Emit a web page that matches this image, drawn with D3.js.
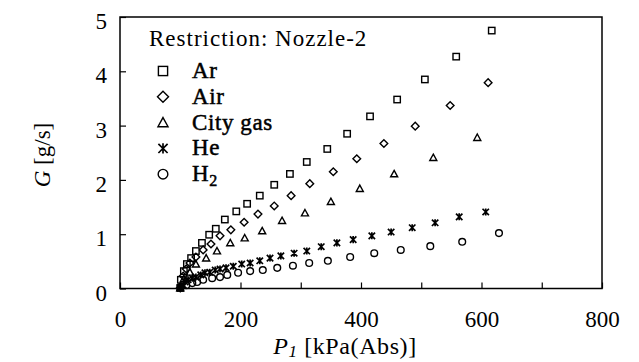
<!DOCTYPE html>
<html>
<head>
    <meta charset="utf-8">
    <style>
        body { margin: 0; background: white; }
        text { font-family: 'Liberation Serif', 'Times New Roman', serif; fill: black; }
        .tick line { stroke: black; stroke-width: 1.2; }
        .tick text { font-size: 23px; font-family: 'Liberation Serif', serif; }
    </style>
</head>
<body>
<svg width="639" height="362"></svg>

<script src="https://d3js.org/d3.v7.min.js"></script>
<script>
    // P1 [kPa(Abs)] / G [g/s]
    let arP = [100, 101, 106, 111, 118, 126, 136, 148, 159, 174, 193, 211, 232, 256, 282, 310, 344, 377, 415, 460, 506, 558, 617]
    let arG = [0.01, 0.16, 0.32, 0.45, 0.56, 0.69, 0.84, 0.99, 1.10, 1.27, 1.42, 1.56, 1.71, 1.91, 2.11, 2.33, 2.57, 2.85, 3.17, 3.48, 3.85, 4.27, 4.75]

    let airP = [100, 105, 110, 116, 126, 138, 151, 166, 184, 206, 229, 256, 284, 315, 354, 393, 438, 490, 548, 611]
    let airG = [0.01, 0.23, 0.36, 0.47, 0.58, 0.71, 0.82, 0.97, 1.08, 1.22, 1.37, 1.52, 1.71, 1.93, 2.15, 2.39, 2.67, 2.99, 3.37, 3.79]

    let cityP = [100, 106, 116, 126, 143, 161, 183, 207, 236, 269, 307, 350, 398, 455, 520, 593]
    let cityG = [0.01, 0.18, 0.30, 0.45, 0.56, 0.69, 0.84, 0.93, 1.06, 1.25, 1.39, 1.60, 1.84, 2.11, 2.41, 2.78]

    let heP = [100, 105, 108, 113, 120, 126, 134, 141, 149, 158, 166, 176, 188, 202, 216, 232, 249, 267, 289, 310, 334, 360, 387, 418, 450, 485, 523, 563, 607]
    let heG = [0.01, 0.06, 0.12, 0.16, 0.19, 0.21, 0.25, 0.29, 0.30, 0.34, 0.36, 0.38, 0.41, 0.45, 0.47, 0.51, 0.56, 0.60, 0.65, 0.69, 0.77, 0.84, 0.90, 0.97, 1.04, 1.12, 1.21, 1.32, 1.41]

    let h2P = [101, 110, 120, 128, 138, 153, 166, 178, 196, 216, 237, 261, 287, 314, 345, 382, 422, 466, 515, 568, 629]
    let h2G = [0.03, 0.06, 0.10, 0.12, 0.16, 0.19, 0.21, 0.25, 0.29, 0.32, 0.34, 0.38, 0.42, 0.47, 0.51, 0.58, 0.65, 0.71, 0.78, 0.86, 1.02]

    let legendNames = ["Ar", "Air", "City gas", "He", "H"]
    let symbols = ["square", "diamond", "triangle", "star", "circle"]
    let xTicks = [0, 100, 200, 300, 400, 500, 600, 700, 800]
    let xLabels = [0, 200, 400, 600, 800]
    let yTicks = [0, 1, 2, 3, 4, 5]

    let series = [
        { P: arP, G: arG },
        { P: airP, G: airG },
        { P: cityP, G: cityG },
        { P: heP, G: heG },
        { P: h2P, G: h2G }
    ]

    let svg = d3.select("svg")

    let plotL = 120, plotR = 602, plotT = 17, plotB = 288.5

    let x = d3.scaleLinear().domain([0, 800]).range([plotL, plotR])
    let y = d3.scaleLinear().domain([0, 5]).range([plotB, plotT])

    // marker shapes, s = half size
    function marker(g, type, s) {
        let sw = 1.4
        let el
        if (type == "square") {
            el = g.append("rect").attr("x", -s).attr("y", -s).attr("width", 2 * s).attr("height", 2 * s)
        } else if (type == "diamond") {
            el = g.append("path").attr("d", `M0,${-s * 1.2}L${s * 1.2},0L0,${s * 1.2}L${-s * 1.2},0Z`)
        } else if (type == "triangle") {
            el = g.append("path").attr("d", `M0,${-s * 1.1}L${s * 1.1},${s * 0.9}L${-s * 1.1},${s * 0.9}Z`)
        } else if (type == "star") {
            el = g.append("path").attr("d", `M${-s},${-s}L${s},${s}M${s},${-s}L${-s},${s}M0,${-s * 1.1}L0,${s * 1.1}`)
            sw = 1.7
        } else {
            el = g.append("circle").attr("r", s * 1.05)
        }
        el.style("fill", "none").style("stroke", "black").style("stroke-width", sw)
    }

    // axes with inward ticks
    svg.append("g")
        .attr("transform", `translate(0,${plotB})`)
        .call(d3.axisBottom(x).tickValues(xTicks).tickSize(-6).tickSizeOuter(0).tickPadding(22)
            .tickFormat(d => xLabels.includes(d) ? d : ""))
        .call(g => g.select(".domain").remove())

    svg.append("g")
        .attr("transform", `translate(${plotL},0)`)
        .call(d3.axisLeft(y).tickValues(yTicks).tickSize(-6).tickSizeOuter(0).tickPadding(13)
            .tickFormat(d3.format("d")))
        .call(g => g.select(".domain").remove())
        .selectAll("text").attr("dy", "0.5em")

    svg.append("rect")
        .attr("x", plotL).attr("y", plotT)
        .attr("width", plotR - plotL).attr("height", plotB - plotT)
        .style("fill", "none").style("stroke", "black").style("stroke-width", 1.5)

    // data
    series.forEach((s, i) => {
        svg.append("g").selectAll("g")
            .data(s.P.map((p, j) => [p, s.G[j]]))
            .join("g")
            .attr("transform", d => `translate(${x(d[0])},${y(d[1])})`)
            .each(function () { marker(d3.select(this), symbols[i], 3.2) })
    })

    // legend
    svg.append("text")
        .attr("x", 149).attr("y", 46)
        .style("font-size", "23px")
        .style("letter-spacing", "1px")
        .text("Restriction: Nozzle-2")

    let leg = svg.append("g")
    legendNames.forEach((n, i) => {
        let yy = 71 + i * 25.8
        let m = leg.append("g").attr("transform", `translate(163,${yy})`)
        marker(m, symbols[i], 4.6)
        let t = leg.append("text").attr("x", 192).attr("y", yy + 7)
            .style("font-size", "23px").style("stroke", "black").style("stroke-width", 0.5)
            .style("letter-spacing", "0.6px").text(n)
        if (i == 4) t.append("tspan").attr("dy", 5).style("font-size", "16px").text("2")
    })

    // axis titles
    let xt = svg.append("text")
        .attr("x", 345).attr("y", 354)
        .attr("text-anchor", "middle")
        .style("font-size", "24px")
        .style("letter-spacing", "0.6px")
    xt.append("tspan").style("font-style", "italic").text("P")
    xt.append("tspan").attr("dy", 3).style("font-style", "italic").style("font-size", "17px").text("1")
    xt.append("tspan").attr("dy", -3).text(" [kPa(Abs)]")

    let yt = svg.append("text")
        .attr("transform", "translate(50,155) rotate(-90)")
        .attr("text-anchor", "middle")
        .style("font-size", "23px")
    yt.append("tspan").style("font-style", "italic").text("G")
    yt.append("tspan").text(" [g/s]")
</script>
</body>
</html>
